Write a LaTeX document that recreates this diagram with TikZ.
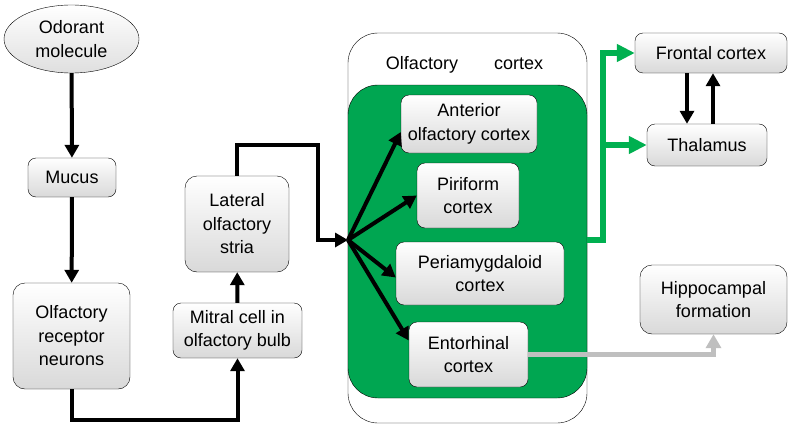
\documentclass[tikz,border=0pt]{standalone}
\usepackage{fontspec}
\setmainfont{Liberation Sans}
\usepackage{tikz}
\usetikzlibrary{arrows.meta,shapes.geometric}

\definecolor{cortexgreen}{RGB}{0,166,81}
\definecolor{arrowgreen}{RGB}{0,176,80}
\definecolor{linegray}{RGB}{191,191,191}

\tikzset{
  box/.style={draw, rounded corners=8pt, top color=white, bottom color=gray!30,
              align=center, inner sep=2pt, font=\fontsize{18}{23.5}\selectfont},
  flow/.style={line width=4pt, -{Triangle[width=14pt,length=13pt]}},
  gflow/.style={line width=5.5pt, arrowgreen, -{Triangle[width=17pt,length=18pt]}},
  hflow/.style={line width=5pt, linegray, -{Triangle[width=15pt,length=14pt]}}
}

\begin{document}
\begin{tikzpicture}[x=1pt, y=-1pt]
      \useasboundingbox (0, 0) rectangle (792, 431);

      % olfactory cortex frame
      \draw [rounded corners=30pt] (348, 33) rectangle (587, 423);
      \draw [rounded corners=30pt, fill=cortexgreen] (348, 85) rectangle (587, 398);
      \node [font=\fontsize{18}{23.5}\selectfont] (title) at (464.5, 65) {Olfactory\hspace{36pt}cortex};

      \node [draw, ellipse, top color=white, bottom color=gray!25, minimum width=135pt, minimum height=68pt,
             inner sep=0pt, align=center, font=\fontsize{18}{23.5}\selectfont] (odor) at (71.5, 39) {Odorant\\molecule};
      \node [box, minimum width=88pt,  minimum height=39pt]  (mucus)    at (72, 177.5)  {Mucus};
      \node [box, minimum width=117pt, minimum height=106pt, rounded corners=12pt] (orn) at (71.5, 336) {Olfactory\\receptor\\neurons};
      \node [box, minimum width=129pt, minimum height=55pt]  (mitral)   at (237.5, 330.5) {Mitral cell in\\olfactory bulb};
      \node [box, minimum width=104pt, minimum height=96pt, rounded corners=12pt] (lateral) at (237, 224) {Lateral\\olfactory\\stria};

      \node [box, minimum width=136pt, minimum height=58pt]  (anterior) at (469, 124)   {Anterior\\olfactory cortex};
      \node [box, minimum width=102pt, minimum height=65pt]  (piriform) at (468, 195.5) {Piriform\\cortex};
      \node [box, minimum width=168pt, minimum height=63pt]  (peri)     at (480, 273.5) {Periamygdaloid\\cortex};
      \node [box, minimum width=119pt, minimum height=65pt]  (ento)     at (468.5, 354.5) {Entorhinal\\cortex};

      \node [box, minimum width=152pt, minimum height=40pt]  (frontal)  at (711, 53)    {Frontal cortex};
      \node [box, minimum width=120pt, minimum height=42pt]  (thalamus) at (707, 145)   {Thalamus};
      \node [box, minimum width=147pt, minimum height=69pt, rounded corners=12pt] (hippo) at (713.5, 299.5) {Hippocampal\\formation};

      \coordinate (hub)  at (348, 240);
      \coordinate (gout) at (587, 240);
      \coordinate (gx)   at (603, 240);

      \draw [flow] (odor)        -- (mucus);
      \draw [flow] (mucus)       -- (orn);
      \draw [flow] (orn.south)   -- ++(0, 31) -| (mitral.south);
      \draw [flow] (mitral)      -- (lateral);
      \draw [flow] (lateral.north) -- ++(0, -31) -| (318, 240) -- (hub);

      \draw [flow] (hub) -- ([yshift=-8pt]anterior.west);
      \draw [flow] (hub) -- (piriform.west);
      \draw [flow] (hub) -- ([yshift=-4pt]peri.west);
      \draw [flow] (hub) -- ([yshift=14pt]ento.west);

      \draw [gflow] (gout) -- (gx) |- (frontal.west);
      \draw [gflow] (gx |- thalamus.west) -- (thalamus.west);

      \draw [flow] ([xshift=-24pt]frontal.south) -- ([xshift=-24pt]frontal.south |- thalamus.north);
      \draw [flow] ([xshift=2pt]frontal.south |- thalamus.north) -- ([xshift=2pt]frontal.south);

      \draw [hflow] (ento.east) -| (hippo.south);
\end{tikzpicture}
\end{document}
